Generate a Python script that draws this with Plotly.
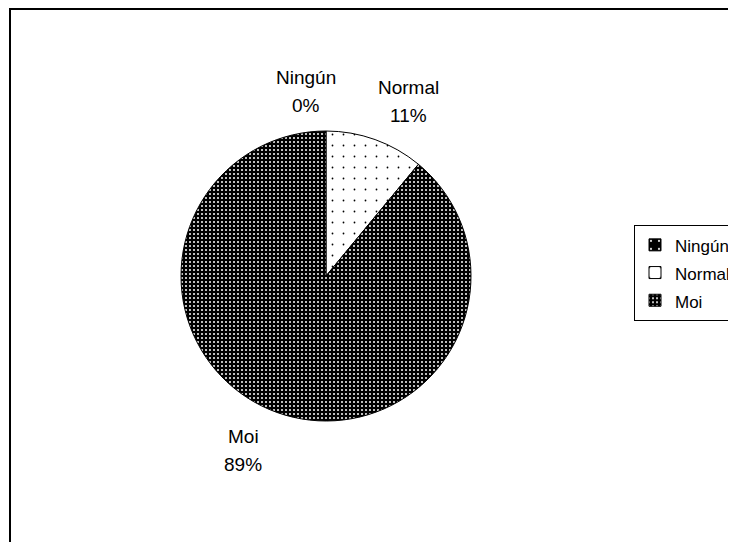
import math

import plotly.graph_objects as go

# ---------------------------------------------------------------------------
# Data
# ---------------------------------------------------------------------------

labels = ["Ningún", "Normal", "Moi"]
values = [0, 11, 89]
pct_labels = ["0%", "11%", "89%"]

# ---------------------------------------------------------------------------
# Geometry (pixels, figure is 736 x 542 with zero margins)
# the page body adds an 8px offset, so target positions are pulled back by it
# ---------------------------------------------------------------------------

W, H = 736, 542
OFF = 8
CX, CY, R = 326 - OFF, 276 - OFF, 145
LABEL_R = 185
FONT = "Liberation Sans, Arial, sans-serif"

pie = go.Pie(
    labels=[f'<span style="font-size:17px">{l}</span>' for l in labels],
    values=values,
    sort=False,
    direction="clockwise",
    rotation=0,
    textinfo="none",
    hoverinfo="skip",
    domain=dict(
        x=[(CX - R) / W, (CX + R) / W],
        y=[1 - (CY + R) / H, 1 - (CY - R) / H],
    ),
    marker=dict(
        colors=["black", "white", "black"],
        line=dict(color="black", width=1),
        pattern=dict(
            shape=[".", ".", "."],
            fillmode="replace",
            bgcolor=["black", "white", "black"],
            fgcolor=["white", "black", "white"],
            size=[8, 11, 4],
            solidity=[0.06, 0.02, 0.2],
        ),
    ),
)

fig = go.Figure(pie)

# data labels placed around the slice midpoints
annotations = []
total = sum(values)
acc = 0
for name, v, pct in zip(labels, values, pct_labels):
    mid = (acc + v / 2) / total * 2 * math.pi
    acc += v
    s, c = math.sin(mid), math.cos(mid)
    px_ = CX + LABEL_R * s + (20 if s > 0 else -20)
    py_ = CY - LABEL_R * c
    for txt, shift in ((name, 14), (pct, -14)):
        annotations.append(dict(
            x=px_ / W, y=1 - py_ / H, xref="paper", yref="paper",
            text=txt, showarrow=False, xanchor="center", yanchor="middle",
            yshift=shift, font=dict(family=FONT, size=19, color="black"),
        ))

fig.update_layout(
    width=W,
    height=H,
    margin=dict(l=0, r=0, t=0, b=0),
    paper_bgcolor="white",
    plot_bgcolor="white",
    font=dict(family=FONT, color="black"),
    annotations=annotations,
    showlegend=True,
    legend=dict(
        x=(634 - OFF) / W, y=1 - (225 - OFF) / H, xanchor="left", yanchor="top",
        bgcolor="white", bordercolor="black", borderwidth=1,
        font=dict(family=FONT, size=19, color="black"),
        valign="middle",
    ),
    shapes=[dict(
        type="rect", xref="paper", yref="paper",
        x0=(10 - OFF) / W, x1=1.05, y0=-0.05, y1=1 - (9 - OFF) / H,
        line=dict(color="black", width=2), fillcolor="rgba(0,0,0,0)",
    )],
)

fig.write_html("out.html")
